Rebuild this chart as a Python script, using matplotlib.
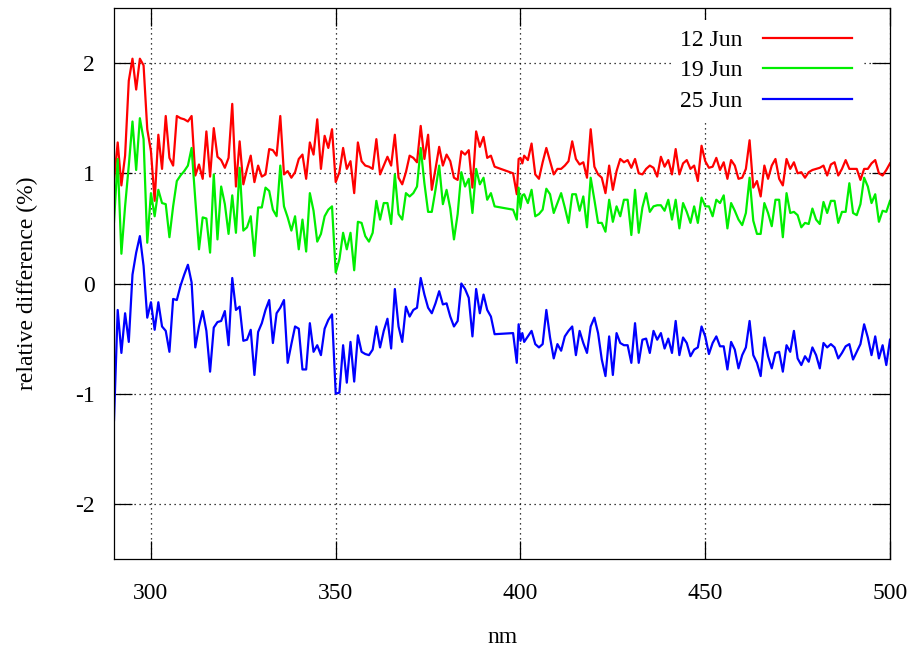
import matplotlib
matplotlib.use("Agg")
import matplotlib.pyplot as plt

plt.rcParams['font.family'] = ['Liberation Serif', 'DejaVu Serif']
plt.rcParams['axes.unicode_minus'] = False

# longitudes de onda (nm): hueco entre 393 y 398
wl = list(range(290, 394)) + [398, 399, 399.5, 400, 400.5] + list(range(401, 501))

jun12 = [
    0.93, 1.28, 0.89, 1.16, 1.84, 2.04, 1.76, 2.04, 1.98, 1.40,
    1.20, 0.75, 1.35, 1.04, 1.52, 1.14, 1.07, 1.52, 1.50, 1.49,
    1.47, 1.52, 0.98, 1.08, 0.95, 1.38, 0.97, 1.41, 1.15, 1.12,
    1.05, 1.14, 1.63, 0.88, 1.29, 0.90, 1.04, 1.16, 0.92, 1.07,
    0.97, 0.99, 1.22, 1.21, 1.16, 1.52, 0.99, 1.02, 0.96, 1.01,
    1.13, 1.17, 0.95, 1.28, 1.17, 1.49, 1.04, 1.34, 1.23, 1.40,
    0.92, 1.01, 1.23, 1.04, 1.11, 0.82, 1.28, 1.11, 1.07, 1.06,
    1.04, 1.31, 0.99, 1.07, 1.15, 1.07, 1.35, 0.96, 0.90, 1.01,
    1.16, 1.14, 1.10, 1.43, 1.13, 1.35, 0.85, 1.04, 1.24, 1.07,
    1.17, 1.11, 0.96, 0.94, 1.20, 1.17, 1.21, 0.87, 1.38, 1.24,
    1.33, 1.14, 1.16, 1.06, 1.00, 0.81, 1.13, 1.14, 1.09,
    1.16, 1.12, 1.27, 0.99, 0.95, 1.10, 1.23, 1.11, 0.99, 1.04,
    1.04, 1.07, 1.11, 1.29, 1.13, 1.08, 1.10, 0.96, 1.40, 1.06,
    0.99, 0.96, 0.82, 1.07, 0.85, 1.02, 1.13, 1.10, 1.12, 1.05,
    1.13, 1.00, 0.99, 1.04, 1.07, 1.05, 0.97, 1.15, 1.06, 1.12,
    0.99, 1.22, 0.99, 1.09, 1.12, 1.04, 1.07, 0.93, 1.25, 1.11,
    1.05, 1.06, 1.14, 1.03, 1.10, 0.95, 1.12, 1.07, 0.95, 0.96,
    1.04, 1.30, 0.87, 0.93, 0.79, 1.07, 0.95, 1.07, 1.13, 0.95,
    0.89, 1.13, 1.04, 1.10, 1.00, 1.01, 0.96, 1.01, 1.03, 1.04,
    1.05, 1.07, 0.98, 1.08, 1.10, 0.98, 1.04, 1.12, 1.04, 1.04,
    1.04, 0.94, 1.04, 1.04, 1.09, 1.12, 1.00, 0.98, 1.03, 1.09,
]

jun19 = [
    0.56, 1.13, 0.27, 0.70, 1.07, 1.47, 1.03, 1.50, 1.31, 0.37,
    0.82, 0.61, 0.85, 0.73, 0.72, 0.42, 0.70, 0.93, 0.98, 1.02,
    1.07, 1.23, 0.76, 0.31, 0.60, 0.59, 0.28, 0.99, 0.40, 0.88,
    0.72, 0.45, 0.80, 0.46, 1.05, 0.48, 0.51, 0.61, 0.25, 0.69,
    0.69, 0.87, 0.84, 0.67, 0.61, 1.07, 0.70, 0.60, 0.48, 0.61,
    0.31, 0.58, 0.29, 0.82, 0.66, 0.38, 0.45, 0.61, 0.67, 0.70,
    0.10, 0.22, 0.46, 0.31, 0.46, 0.12, 0.56, 0.55, 0.43, 0.38,
    0.46, 0.75, 0.58, 0.73, 0.73, 0.54, 0.99, 0.63, 0.58, 0.82,
    0.79, 0.82, 0.88, 1.23, 0.91, 0.65, 0.65, 0.85, 1.07, 0.72,
    0.85, 0.68, 0.40, 0.63, 1.01, 0.88, 0.95, 0.64, 1.04, 0.90,
    0.96, 0.76, 0.82, 0.70, 0.67, 0.58, 0.87, 0.69, 0.80,
    0.81, 0.73, 0.85, 0.61, 0.63, 0.67, 0.86, 0.81, 0.64, 0.73,
    0.82, 0.69, 0.55, 0.81, 0.81, 0.66, 0.79, 0.51, 0.96, 0.76,
    0.55, 0.55, 0.47, 0.76, 0.56, 0.70, 0.61, 0.76, 0.76, 0.44,
    0.85, 0.46, 0.69, 0.82, 0.65, 0.70, 0.71, 0.71, 0.66, 0.76,
    0.58, 0.76, 0.50, 0.73, 0.65, 0.55, 0.70, 0.55, 0.78, 0.70,
    0.70, 0.61, 0.76, 0.73, 0.80, 0.50, 0.73, 0.66, 0.58, 0.53,
    0.64, 0.96, 0.57, 0.45, 0.45, 0.73, 0.64, 0.52, 0.76, 0.76,
    0.42, 0.82, 0.64, 0.65, 0.62, 0.51, 0.55, 0.54, 0.68, 0.58,
    0.54, 0.74, 0.64, 0.75, 0.75, 0.55, 0.65, 0.65, 0.91, 0.64,
    0.62, 0.72, 0.96, 0.88, 0.73, 0.81, 0.56, 0.66, 0.65, 0.75,
]

jun25 = [
    -1.24, -0.24, -0.63, -0.27, -0.53, 0.08, 0.28, 0.43, 0.16, -0.31,
    -0.17, -0.42, -0.17, -0.39, -0.43, -0.62, -0.14, -0.15, -0.02, 0.08,
    0.17, 0.01, -0.58, -0.39, -0.25, -0.43, -0.80, -0.40, -0.35, -0.34,
    -0.25, -0.56, 0.05, -0.24, -0.21, -0.52, -0.51, -0.42, -0.83, -0.44,
    -0.36, -0.24, -0.15, -0.54, -0.27, -0.22, -0.15, -0.72, -0.55, -0.39,
    -0.41, -0.78, -0.78, -0.36, -0.62, -0.56, -0.65, -0.41, -0.33, -0.28,
    -1.00, -0.99, -0.56, -0.90, -0.53, -0.89, -0.47, -0.62, -0.64, -0.65,
    -0.60, -0.39, -0.58, -0.43, -0.32, -0.59, -0.05, -0.39, -0.53, -0.21,
    -0.30, -0.24, -0.22, 0.05, -0.10, -0.22, -0.27, -0.18, -0.07, -0.19,
    -0.18, -0.30, -0.39, -0.34, 0.00, -0.05, -0.13, -0.48, -0.05, -0.27,
    -0.10, -0.24, -0.30, -0.46, -0.45, -0.72, -0.37, -0.52, -0.45,
    -0.53, -0.48, -0.43, -0.55, -0.58, -0.55, -0.24, -0.49, -0.68, -0.55,
    -0.61, -0.48, -0.43, -0.39, -0.65, -0.43, -0.54, -0.63, -0.39, -0.31,
    -0.45, -0.69, -0.84, -0.48, -0.83, -0.45, -0.54, -0.56, -0.56, -0.72,
    -0.36, -0.72, -0.51, -0.50, -0.63, -0.43, -0.51, -0.45, -0.59, -0.50,
    -0.63, -0.34, -0.65, -0.49, -0.54, -0.66, -0.60, -0.58, -0.39, -0.48,
    -0.64, -0.54, -0.48, -0.57, -0.57, -0.78, -0.53, -0.60, -0.77, -0.65,
    -0.58, -0.34, -0.65, -0.72, -0.84, -0.49, -0.66, -0.77, -0.63, -0.62,
    -0.80, -0.56, -0.62, -0.43, -0.68, -0.74, -0.66, -0.71, -0.58, -0.65,
    -0.77, -0.54, -0.58, -0.55, -0.58, -0.68, -0.63, -0.57, -0.55, -0.69,
    -0.62, -0.55, -0.37, -0.49, -0.65, -0.48, -0.68, -0.56, -0.74, -0.51,
]

series = [('12 Jun', jun12, '#ff0000'),
          ('19 Jun', jun19, '#00ee00'),
          ('25 Jun', jun25, '#0000ff')]

fig = plt.figure(figsize=(9.12, 6.48), dpi=100)
ax = fig.add_axes([114 / 912, 1 - 559 / 648, 776 / 912, 551 / 648])

for nombre, valores, color in series:
    ax.plot(wl, valores, color=color, lw=1.6, label=nombre)

ax.set_xlim(290, 500)
ax.set_ylim(-2.5, 2.5)
ax.set_xticks([300, 350, 400, 450, 500])
ax.set_yticks([-2, -1, 0, 1, 2])
ax.grid(True, color='black', linestyle=(0, (1, 3)), linewidth=0.9)
ax.tick_params(direction='in', length=13, width=0.9, top=True, right=True,
               labelsize=17)
ax.tick_params(axis='x', pad=17)
ax.tick_params(axis='y', pad=14)
for s in ax.spines.values():
    s.set_linewidth(0.9)

ax.set_xlabel('nm', fontsize=17)
ax.set_ylabel('relative difference (%)', fontsize=17)
ax.xaxis.set_label_coords(0.5, -0.143)
ax.xaxis.label.set_va('center')
ax.yaxis.set_label_coords(-0.112, 0.5)
ax.yaxis.label.set_va('center')

leg = ax.legend(loc='upper right', bbox_to_anchor=(0.979, 1.0), markerfirst=False,
                frameon=True, fancybox=False, framealpha=1, facecolor='white',
                edgecolor='none', fontsize=17, handlelength=3.8,
                handletextpad=0.85, labelspacing=0.38, borderpad=0.4)

fig.savefig('out.png', dpi=100)
